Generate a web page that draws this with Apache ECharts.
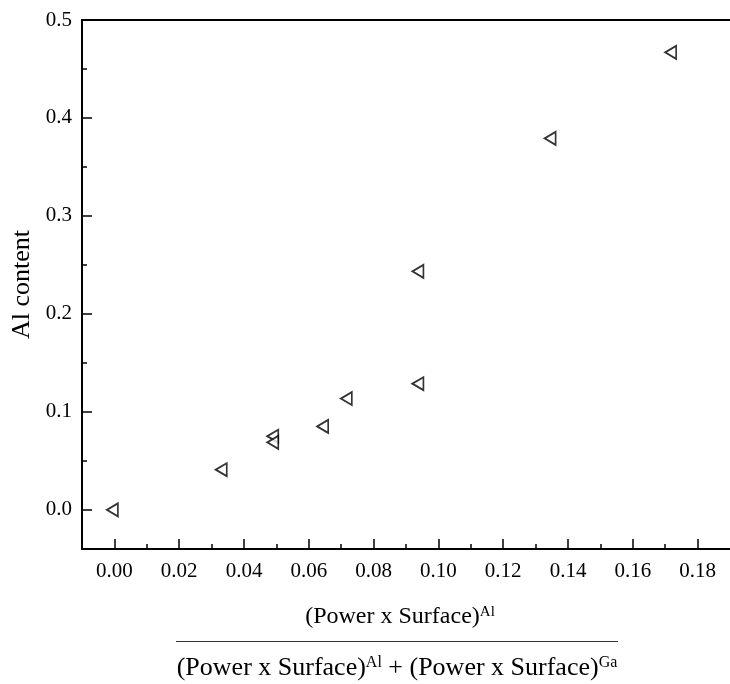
<!DOCTYPE html>
<html>
<head>
<meta charset="utf-8">
<script src="https://cdn.jsdelivr.net/npm/echarts@6/dist/echarts.min.js"></script>
<style>
    html, body { margin: 0; padding: 0; background: #fff; }
    #main { width: 730px; height: 684px; }
</style>
</head>
<body>
<div id="main"></div>
<script>
// measured points, Al content vs power x surface ratio
var xVals = [0, 0.0336, 0.0495, 0.0495, 0.0649, 0.0722, 0.0943, 0.0943, 0.1351, 0.1723]
var yVals = [0, 0.0409, 0.0751, 0.0689, 0.0851, 0.1136, 0.1287, 0.2434, 0.3792, 0.4670]

// tick values
var xTicks = [0, 0.02, 0.04, 0.06, 0.08, 0.10, 0.12, 0.14, 0.16, 0.18]
var xMinorTicks = [0.01, 0.03, 0.05, 0.07, 0.09, 0.11, 0.13, 0.15, 0.17]
var yTicks = [0, 0.1, 0.2, 0.3, 0.4, 0.5]
var yMinorTicks = [0.05, 0.15, 0.25, 0.35, 0.45]

var font = 'Liberation Serif'
var points = xVals.map(function (x, i) { return [x, yVals[i]] })

var chart = echarts.init(document.getElementById('main'))
chart.setOption({
    animation: false,
    backgroundColor: '#fff',
    grid: { left: 82, right: -8, top: 20, bottom: 135 },
    xAxis: [
        {
            type: 'value', position: 'bottom', min: -0.01, max: 0.19,
            axisLine: { show: true, onZero: false, lineStyle: { color: '#000', width: 2 } },
            axisTick: { show: true, inside: true, length: 10, customValues: xTicks, lineStyle: { color: '#000', width: 1.5 } },
            axisLabel: {
                customValues: xTicks, margin: 12, color: '#000', fontFamily: font, fontSize: 21,
                formatter: function (v) { return v.toFixed(2) }
            },
            splitLine: { show: false }
        },
        {
            // minor ticks
            type: 'value', position: 'bottom', min: -0.01, max: 0.19,
            axisLine: { show: false, onZero: false },
            axisTick: { show: true, inside: true, length: 5, customValues: xMinorTicks, lineStyle: { color: '#000', width: 1.5 } },
            axisLabel: { show: false },
            splitLine: { show: false }
        },
        {
            // top border line
            type: 'value', position: 'top', min: -0.01, max: 0.19,
            axisLine: { show: true, onZero: false, lineStyle: { color: '#000', width: 2 } },
            axisTick: { show: false },
            axisLabel: { show: false },
            splitLine: { show: false }
        }
    ],
    yAxis: [
        {
            type: 'value', position: 'left', min: -0.04, max: 0.5,
            name: 'Al content', nameLocation: 'middle', nameRotate: 90, nameGap: 40,
            nameTextStyle: { color: '#000', fontFamily: font, fontSize: 26 },
            axisLine: { show: true, onZero: false, lineStyle: { color: '#000', width: 2 } },
            axisTick: { show: true, inside: true, length: 10, customValues: yTicks, lineStyle: { color: '#000', width: 1.5 } },
            axisLabel: {
                customValues: yTicks, margin: 10, color: '#000', fontFamily: font, fontSize: 21,
                formatter: function (v) { return v.toFixed(1) }
            },
            splitLine: { show: false }
        },
        {
            type: 'value', position: 'left', min: -0.04, max: 0.5,
            axisLine: { show: false, onZero: false },
            axisTick: { show: true, inside: true, length: 5, customValues: yMinorTicks, lineStyle: { color: '#000', width: 1.5 } },
            axisLabel: { show: false },
            splitLine: { show: false }
        }
    ],
    graphic: [
        {
            type: 'text', x: 400, y: 617,
            style: {
                text: '{m|(Power x Surface)}{s|Al}',
                align: 'center', verticalAlign: 'middle',
                rich: {
                    m: { fontFamily: font, fontSize: 24, fill: '#000' },
                    s: { fontFamily: font, fontSize: 15, fill: '#000', verticalAlign: 'top' }
                }
            }
        },
        {
            type: 'line',
            shape: { x1: 176, y1: 641.5, x2: 618, y2: 641.5 },
            style: { stroke: '#333', lineWidth: 1 }
        },
        {
            type: 'text', x: 397, y: 668,
            style: {
                text: '{m|(Power x Surface)}{s|Al}{m| + (Power x Surface)}{s|Ga}',
                align: 'center', verticalAlign: 'middle',
                rich: {
                    m: { fontFamily: font, fontSize: 26, fill: '#000' },
                    s: { fontFamily: font, fontSize: 16, fill: '#000', verticalAlign: 'top' }
                }
            }
        }
    ],
    series: [
        {
            type: 'scatter',
            xAxisIndex: 0,
            yAxisIndex: 0,
            data: points,
            symbol: 'triangle',
            symbolRotate: 90,
            symbolSize: [13, 11],
            symbolOffset: [-2, 0],
            itemStyle: { color: '#fff', borderColor: '#000', borderWidth: 1.8 }
        }
    ]
})
</script>
</body>
</html>
